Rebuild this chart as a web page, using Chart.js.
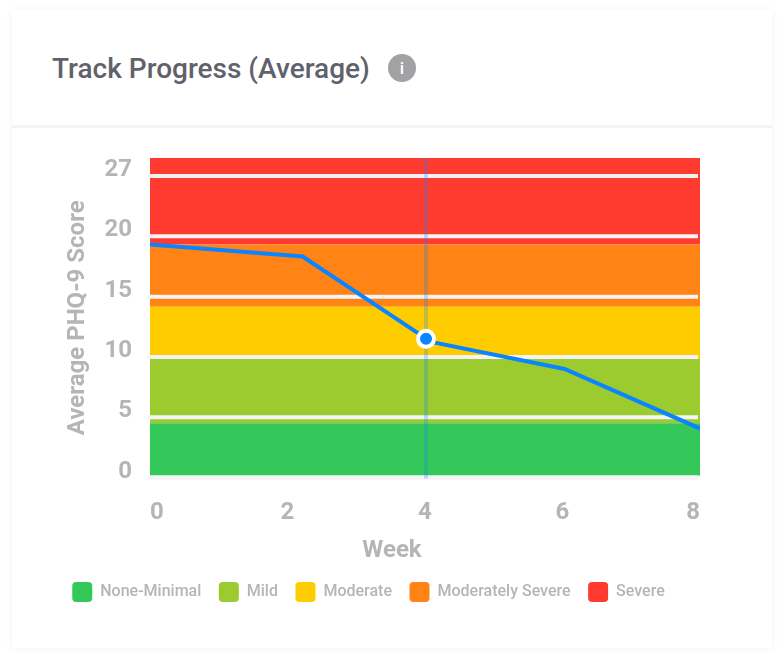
<!DOCTYPE html>
<html>
<head>
<meta charset="utf-8">
<script src="https://cdn.jsdelivr.net/npm/chart.js@4"></script>
<style>
    html, body { margin: 0; background: #fff; }
    body { width: 784px; height: 652px; position: relative; overflow: hidden; font-family: Roboto, sans-serif; }
    .card { position: absolute; left: 12px; top: 10px; width: 760px; height: 638px; background: #fff; box-shadow: 0 0 8px rgba(0, 0, 0, 0.05); }
    .head { position: absolute; left: 0; top: 115px; width: 760px; height: 3px; background: #f4f4f6; }
    .title { position: absolute; left: 40px; top: 41px; font-size: 28px; line-height: 36px; font-weight: 500; color: #5f626b; white-space: nowrap; }
    .info { position: absolute; left: 376px; top: 44px; width: 28px; height: 28px; border-radius: 50%; background: #a3a1a3; color: #fff; font-size: 17px; font-weight: 500; line-height: 28px; text-align: center; }
    canvas { position: absolute; left: 12px; top: 128px; }
</style>
</head>
<body>
<div class="card">
    <div class="title">Track Progress (Average)</div>
    <div class="info">i</div>
    <div class="head"></div>
</div>
<canvas id="chart" width="712" height="510"></canvas>
<script>
const yTicks = [0, 5, 10, 15, 20, 25];
const yTickLabels = ['0', '5', '10', '15', '20', '27'];
const xRange = [0, 8];

const bandNames = ['None-Minimal', 'Mild', 'Moderate', 'Moderately Severe', 'Severe'];
const bandLow = [0.17, 4.5, 9.83, 14.17, 19.33];
const bandHigh = [4.5, 9.83, 14.17, 19.33, 26.5];
const bandColors = ['#34c759', '#9bcb2e', '#ffcc00', '#ff8315', '#ff3b30'];

const weeks = [0, 2.22, 4.09, 6.03, 8];
const scores = [19.33, 18.33, 11.25, 9, 4.06];
const cursorWeek = [4.015];
const cursorScore = [11.5];
const cursorSpan = [-0.1, 26.5];

const grey = '#b5b5b5';
const blue = '#0a84ff';

const bandSets = bandNames.map((name, i) => ({
    label: name,
    data: xRange.map(x => ({ x: x, y: bandHigh[i] })),
    fill: { target: { value: bandLow[i] } },
    backgroundColor: bandColors[i],
    borderWidth: 0,
    pointRadius: 0,
    order: 5,
}));

// grid sits 2px left of the plot, and between the bands and the cursor
const gridPlugin = {
    id: 'offsetGrid',
    beforeDatasetDraw(chart, args) {
        if (args.index !== bandNames.length) return;
        const area = chart.chartArea;
        const ctx = chart.ctx;
        ctx.save();
        ctx.strokeStyle = '#f4f4f6';
        ctx.lineWidth = 4;
        yTicks.forEach(v => {
            const y = chart.scales.y.getPixelForValue(v);
            ctx.beginPath();
            ctx.moveTo(area.left - 2, y);
            ctx.lineTo(area.right - 2, y);
            ctx.stroke();
        });
        ctx.restore();
    },
    // the axis title is centred on the card, not on the plot
    afterDraw(chart) {
        const ctx = chart.ctx;
        ctx.save();
        ctx.font = '700 24px Roboto';
        ctx.fillStyle = grey;
        ctx.textAlign = 'center';
        ctx.textBaseline = 'middle';
        ctx.fillText('Week', 380, 423);
        ctx.restore();
    },
};

new Chart(document.getElementById('chart').getContext('2d'), {
    type: 'line',
    data: {
        datasets: bandSets.concat([
            {
                label: 'Cursor',
                data: cursorSpan.map(y => ({ x: cursorWeek[0], y: y })),
                borderColor: 'rgba(10, 132, 255, 0.25)',
                borderWidth: 4,
                pointRadius: 0,
                clip: false,
                order: 3,
            },
            {
                label: 'Average PHQ-9 Score',
                data: weeks.map((w, i) => ({ x: w, y: scores[i] })),
                borderColor: blue,
                borderWidth: 4,
                pointRadius: 0,
                tension: 0,
                order: 2,
            },
            {
                label: 'Selected',
                data: cursorWeek.map((w, i) => ({ x: w, y: cursorScore[i] })),
                pointRadius: 8,
                pointBorderWidth: 4,
                pointBackgroundColor: blue,
                pointBorderColor: '#fff',
                showLine: false,
                order: 1,
            },
        ]),
    },
    options: {
        responsive: false,
        animation: false,
        events: [],
        layout: { padding: { left: 25, right: 24, top: 30, bottom: 26 } },
        plugins: {
            tooltip: { enabled: false },
            legend: {
                position: 'bottom',
                labels: {
                    filter: item => item.datasetIndex < bandNames.length,
                    boxWidth: 20,
                    boxHeight: 20,
                    padding: 17.5,
                    useBorderRadius: true,
                    borderRadius: 4,
                    color: grey,
                    font: { family: 'Roboto', size: 16, weight: '500' },
                },
            },
        },
        scales: {
            x: {
                type: 'linear',
                min: xRange[0],
                max: xRange[1],
                grid: { display: false, drawTicks: false },
                border: { display: false },
                afterFit: s => { s.height = 87; s.paddingLeft = 0; s.paddingRight = 0; },
                ticks: {
                    stepSize: 2,
                    align: 'inner',
                    maxRotation: 0,
                    padding: 21,
                    color: grey,
                    font: { family: 'Roboto', size: 24, weight: '700' },
                },
            },
            y: {
                min: 0,
                max: 26.5,
                grid: { display: false, drawTicks: false },
                border: { display: false },
                afterFit: s => { s.width = 113; s.paddingTop = 0; s.paddingBottom = 0; },
                title: {
                    display: true,
                    text: 'Average PHQ-9 Score',
                    color: grey,
                    padding: { top: 27, bottom: 0 },
                    font: { family: 'Roboto', size: 24, weight: '700' },
                },
                ticks: {
                    stepSize: 5,
                    includeBounds: false,
                    padding: 18,
                    labelOffset: -6,
                    color: grey,
                    font: { family: 'Roboto', size: 24, weight: '700' },
                    callback: (v, i) => yTickLabels[i],
                },
            },
        },
    },
    plugins: [gridPlugin],
});
</script>
</body>
</html>
